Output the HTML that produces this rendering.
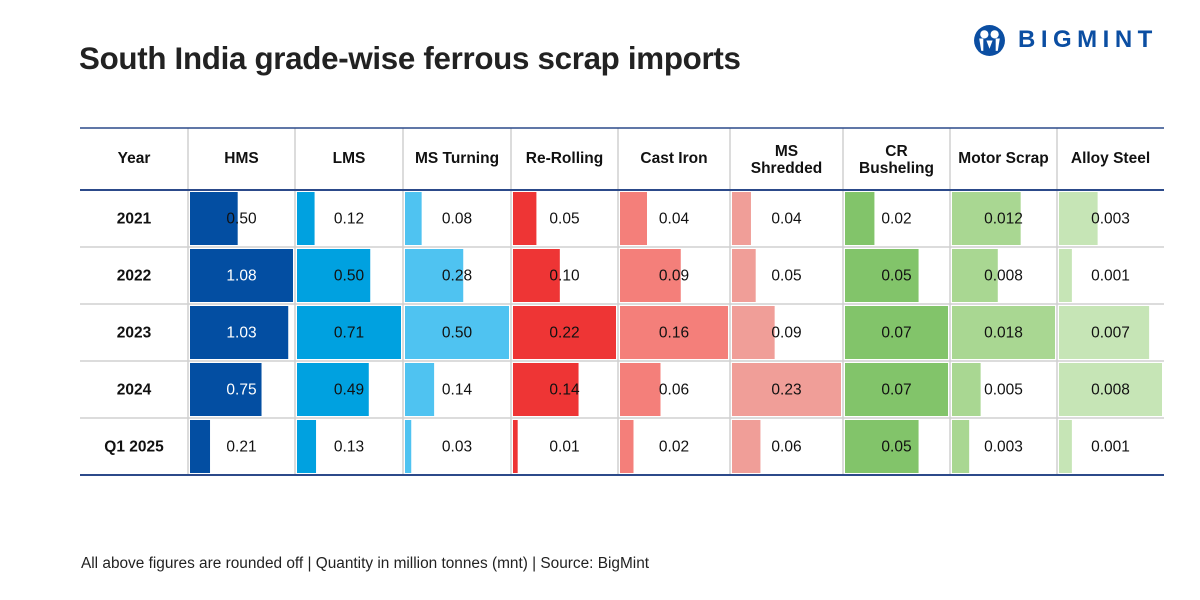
<!DOCTYPE html>
<html><head><meta charset="utf-8"><style>
body{margin:0;width:1200px;height:600px;background:#fff;font-family:"Liberation Sans",sans-serif;position:relative;overflow:hidden}
#title{position:absolute;left:79px;top:41px;font-size:31.3px;font-weight:bold;color:#222;letter-spacing:-0.3px}
#note{position:absolute;left:81px;top:555px;font-size:15.4px;color:#222}
#logo{position:absolute;left:973px;top:24px;height:32px;display:flex;align-items:center}
#logo span{font-size:24px;font-weight:bold;color:#0b4ea2;letter-spacing:5.5px;margin-left:12px}
#tbl{position:absolute;left:0;top:0}
</style></head><body>
<div id="title">South India grade-wise ferrous scrap imports</div>
<div id="logo">
<svg width="33" height="33" viewBox="0 0 32 32"><circle cx="16" cy="16" r="15" fill="#0b4ea2"/><circle cx="11" cy="10" r="4" fill="#fff"/><circle cx="21" cy="10" r="4" fill="#fff"/><path d="M6 14h4v12h-2zM22 14h4l-2 12h-2zM13 16l3 8 3-8" fill="#fff"/></svg>
<span>BIGMINT</span></div>
<svg id="tbl" width="1200" height="600"></svg>
<div id="note">All above figures are rounded off | Quantity in million tonnes (mnt) | Source: BigMint</div>
<script>
const years=["2021","2022","2023","2024","Q1 2025"];
const grades=["HMS","LMS","MS Turning","Re-Rolling","Cast Iron","MS Shredded","CR Busheling","Motor Scrap","Alloy Steel"];
const hms=[0.50,1.08,1.03,0.75,0.21];
const lms=[0.12,0.50,0.71,0.49,0.13];
const msTurning=[0.08,0.28,0.50,0.14,0.03];
const reRolling=[0.05,0.10,0.22,0.14,0.01];
const castIron=[0.04,0.09,0.16,0.06,0.02];
const msShredded=[0.04,0.05,0.09,0.23,0.06];
const crBusheling=[0.02,0.05,0.07,0.07,0.05];
const motorScrap=[0.012,0.008,0.018,0.005,0.003];
const alloySteel=[0.003,0.001,0.007,0.008,0.001];
const series=[hms,lms,msTurning,reRolling,castIron,msShredded,crBusheling,motorScrap,alloySteel];
const decimals=[2,2,2,2,2,2,2,3,3];
const colors=["#034ea2","#00a1e0","#4fc3f1","#ee3535","#f47f7a","#f09e98","#82c46a","#a9d792","#c6e5b6"];
const colX=[80,188,295,403,511,618,730,843,950,1057,1164];
const headTop=128,headBot=190,rowH=57;
const svg=document.getElementById('tbl');const NS="http://www.w3.org/2000/svg";
function el(t,a,p){const e=document.createElementNS(NS,t);for(const k in a)e.setAttribute(k,a[k]);(p||svg).appendChild(e);return e;}
function txt(x,y,s,o){const t=el('text',Object.assign({x:x,y:y,'text-anchor':'middle','font-size':15.5,fill:'#111','font-family':'Liberation Sans, sans-serif'},o||{}));t.textContent=s;return t;}
series.forEach((vals,c)=>{
  const max=Math.max(...vals);const x0=colX[c+1]+2,w=colX[c+2]-colX[c+1]-4;
  vals.forEach((v,r)=>{
    const y=headBot+r*rowH+2;
    const b=el('rect',{x:x0,y:y,width:v/max*w,height:rowH-4,fill:colors[c]});
    
    
    const white=(c===0&&v>=0.7);
    const t=txt((colX[c+1]+colX[c+2])/2,y+rowH/2+3,v.toFixed(decimals[c]),{fill:white?'#fff':'#111'});
    
    
  });
});
const bottom=headBot+years.length*rowH;
for(let i=1;i<colX.length-1;i++){const l=el('line',{x1:colX[i],x2:colX[i],y1:headTop,y2:bottom,stroke:'#d0d0d0','stroke-width':1.5});}
for(let r=1;r<years.length;r++){const y=headBot+r*rowH;const l=el('line',{x1:80,x2:1164,y1:y,y2:y,stroke:'#d0d0d0','stroke-width':1.5});}
[[headTop,1.5],[headBot,2],[bottom,2]].forEach(([y,w])=>{const l=el('line',{x1:80,x2:1164,y1:y,y2:y,stroke:'#2c4a8a','stroke-width':w});});
const heads=["Year"].concat(grades);
heads.forEach((h,i)=>{
  const cx=(colX[i]+colX[i+1])/2;
  let t;
  if(h==="MS Shredded"||h==="CR Busheling"){
    const p=h.split(" ");t=el('text',{'text-anchor':'middle','font-size':15.5,'font-weight':'bold',fill:'#111','font-family':'Liberation Sans, sans-serif'});
    const a=el('tspan',{x:cx,y:156},t);a.textContent=p[0];const b=el('tspan',{x:cx,y:173},t);b.textContent=p[1];
  } else t=txt(cx,163,h,{'font-weight':'bold'});
  
  
});
years.forEach((y,r)=>{const t=txt((colX[0]+colX[1])/2,headBot+r*rowH+rowH/2+5,y,{'font-weight':'bold'});
  
  });
</script>
</body></html>
